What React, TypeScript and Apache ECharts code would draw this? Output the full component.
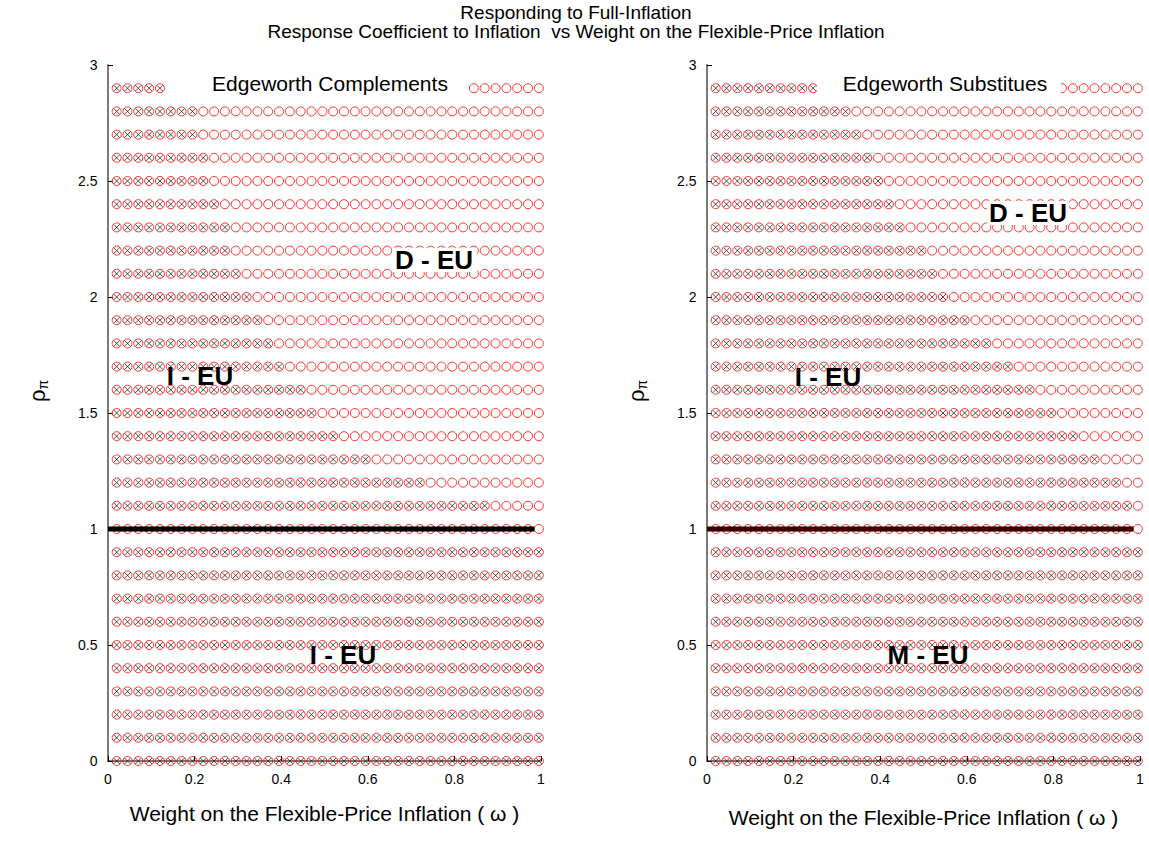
import React, { useEffect, useRef } from "react";
import * as echarts from "echarts";

// grid of weights on flexible-price inflation (omega) and response coefficients (rho_pi)
const omega = [
  0.02, 0.045, 0.07, 0.095, 0.12, 0.145, 0.17, 0.195, 0.22, 0.245,
  0.27, 0.295, 0.32, 0.345, 0.37, 0.395, 0.42, 0.445, 0.47, 0.495,
  0.52, 0.545, 0.57, 0.595, 0.62, 0.645, 0.67, 0.695, 0.72, 0.745,
  0.77, 0.795, 0.82, 0.845, 0.87, 0.895, 0.92, 0.945, 0.97, 0.995,
];
const rho = [
  0, 0.1, 0.2, 0.3, 0.4, 0.5, 0.6, 0.7, 0.8, 0.9,
  1.0, 1.1, 1.2, 1.3, 1.4, 1.5, 1.6, 1.7, 1.8, 1.9,
  2.0, 2.1, 2.2, 2.3, 2.4, 2.5, 2.6, 2.7, 2.8, 2.9,
];
// number of crossed (x-marked) points in each rho row, counted from omega's low end
const crossedComplements = [
  40, 40, 40, 40, 40, 40, 40, 40, 40, 40,
  39, 35, 29, 24, 21, 19, 18, 16, 15, 14,
  13, 12, 11, 11, 10, 9, 9, 8, 8, 8,
];
const crossedSubstitutes = [
  40, 40, 40, 40, 40, 40, 40, 40, 40, 40,
  39, 39, 38, 36, 34, 32, 30, 28, 26, 24,
  22, 21, 20, 18, 17, 16, 15, 14, 13, 12,
];
const boundaryOmega = [0, 0.985];
const boundaryRho = [1, 1];

const xTicks = [0, 0.2, 0.4, 0.6, 0.8, 1];
const yTicks = [0, 0.5, 1, 1.5, 2, 2.5, 3];

function allPoints(): number[][] {
  const pts: number[][] = [];
  rho.forEach((r) => omega.forEach((w) => pts.push([w, r])));
  return pts;
}
function crossedPoints(counts: number[]): number[][] {
  const pts: number[][] = [];
  rho.forEach((r, i) => {
    for (let j = 0; j < counts[i]; j++) pts.push([omega[j], r]);
  });
  return pts;
}

const FONT = "Liberation Sans, Arial, sans-serif";
const AXIS_GRAY = "#7a7a7a";

export default function App() {
  const ref = useRef<HTMLDivElement>(null);
  useEffect(() => {
    const chart = echarts.init(ref.current!, null, { renderer: "svg" });
    const grids = [
      { left: 108, top: 65, width: 433, height: 696 },
      { left: 707, top: 65, width: 433, height: 696 },
    ];
    const mkX = (i: number) => ({
      type: "value",
      gridIndex: i,
      min: 0,
      max: 1,
      interval: 0.2,
      offset: 7,
      axisLine: { show: true, lineStyle: { color: AXIS_GRAY, width: 2 } },
      axisTick: { show: true, inside: true, length: 5, lineStyle: { color: "#000" } },
      axisLabel: {
        color: "#000",
        fontFamily: FONT,
        fontSize: 14,
        margin: 4,
        formatter: (v: number) => (xTicks.includes(v) ? String(v) : ""),
      },
      splitLine: { show: false },
      name: "Weight on the Flexible-Price Inflation ( \u03c9 )",
      nameLocation: "middle",
      nameGap: i === 0 ? 35 : 39,
      nameTextStyle: { color: "#000", fontFamily: FONT, fontSize: 21 },
    });
    const mkY = (i: number) => ({
      type: "value",
      gridIndex: i,
      min: 0,
      max: 3,
      interval: 0.5,
      offset: 3.5,
      axisLine: { show: true, lineStyle: { color: AXIS_GRAY, width: 2 } },
      axisTick: { show: true, inside: true, length: 5, lineStyle: { color: "#000" } },
      axisLabel: {
        color: "#000",
        fontFamily: FONT,
        fontSize: 14,
        margin: 7,
        formatter: (v: number) => (yTicks.includes(v) ? String(v) : ""),
      },
      splitLine: { show: false },
    });
    const crossSymbol = "path://M0,0L10,10M10,0L0,10";
    const series: any[] = [];
    [crossedComplements, crossedSubstitutes].forEach((counts, i) => {
      series.push({
        type: "scatter",
        xAxisIndex: i,
        yAxisIndex: i,
        data: allPoints(),
        symbol: "circle",
        symbolSize: 9,
        itemStyle: { color: "transparent", borderColor: "#ff0000", borderWidth: 1 },
        z: 2,
      });
      series.push({
        type: "scatter",
        xAxisIndex: i,
        yAxisIndex: i,
        data: crossedPoints(counts),
        symbol: crossSymbol,
        symbolSize: 6,
        itemStyle: { color: "transparent", borderColor: "#222", borderWidth: 1 },
        z: 3,
      });
      series.push({
        type: "line",
        xAxisIndex: i,
        yAxisIndex: i,
        data: boundaryOmega.map((w, k) => [w, boundaryRho[k]]),
        symbol: "none",
        lineStyle: { color: i === 0 ? "#000000" : "#3a0000", width: 5 },
        z: 4,
      });
    });
    const txt = (x: number, y: number, text: string, size: number, bold: boolean) => ({
      type: "text",
      x,
      y,
      z: 101,
      style: {
        text,
        fontFamily: FONT,
        fontSize: size,
        fontWeight: bold ? "bold" : "normal",
        fill: "#000",
        align: "center",
        verticalAlign: "middle",
      },
    });
    const box = (x1: number, x2: number, y1: number, y2: number) => ({
      type: "rect",
      z: 100,
      shape: { x: x1, y: y1, width: x2 - x1, height: y2 - y1 },
      style: { fill: "#fff" },
    });
    const yName = (x: number, y: number) => ({
      type: "text",
      x,
      y,
      rotation: Math.PI / 2,
      z: 101,
      style: {
        text: "{a|\u03c1}{b|\u03c0}",
        align: "center",
        verticalAlign: "middle",
        rich: {
          a: { fontFamily: FONT, fontSize: 22, fill: "#000", color: "#000" },
          b: { fontFamily: FONT, fontSize: 14, fill: "#000", color: "#000", padding: [12, 0, 0, 0] },
        },
      },
    });
    const option: any = {
      animation: false,
      backgroundColor: "#fff",
      grid: grids,
      xAxis: [mkX(0), mkX(1)],
      yAxis: [mkY(0), mkY(1)],
      series,
      graphic: [
        txt(576, 12, "Responding to Full-Inflation", 19, false),
        txt(576, 31, "Response Coefficient to Inflation  vs Weight on the Flexible-Price Inflation", 19, false),
        box(165, 468, 74, 97),
        txt(330, 83, "Edgeworth Complements", 21, false),
        box(817, 1061, 74, 97),
        txt(945, 83, "Edgeworth Substitues", 21, false),
        box(392, 477, 248, 272),
        txt(434, 260, "D - EU", 26, true),
        box(987, 1069, 201, 225),
        txt(1028, 213, "D - EU", 26, true),
        txt(200, 376, "I - EU", 26, true),
        txt(828, 377, "I - EU", 26, true),
        txt(343, 655, "I - EU", 26, true),
        txt(928, 655, "M - EU", 26, true),
        yName(37, 391),
        yName(636, 391),
      ],
    };
    chart.setOption(option);
    return () => chart.dispose();
  }, []);
  return (
    <div
      ref={ref}
      style={{ position: "fixed", left: 0, top: 0, width: 1149, height: 858, background: "#fff" }}
    />
  );
}
